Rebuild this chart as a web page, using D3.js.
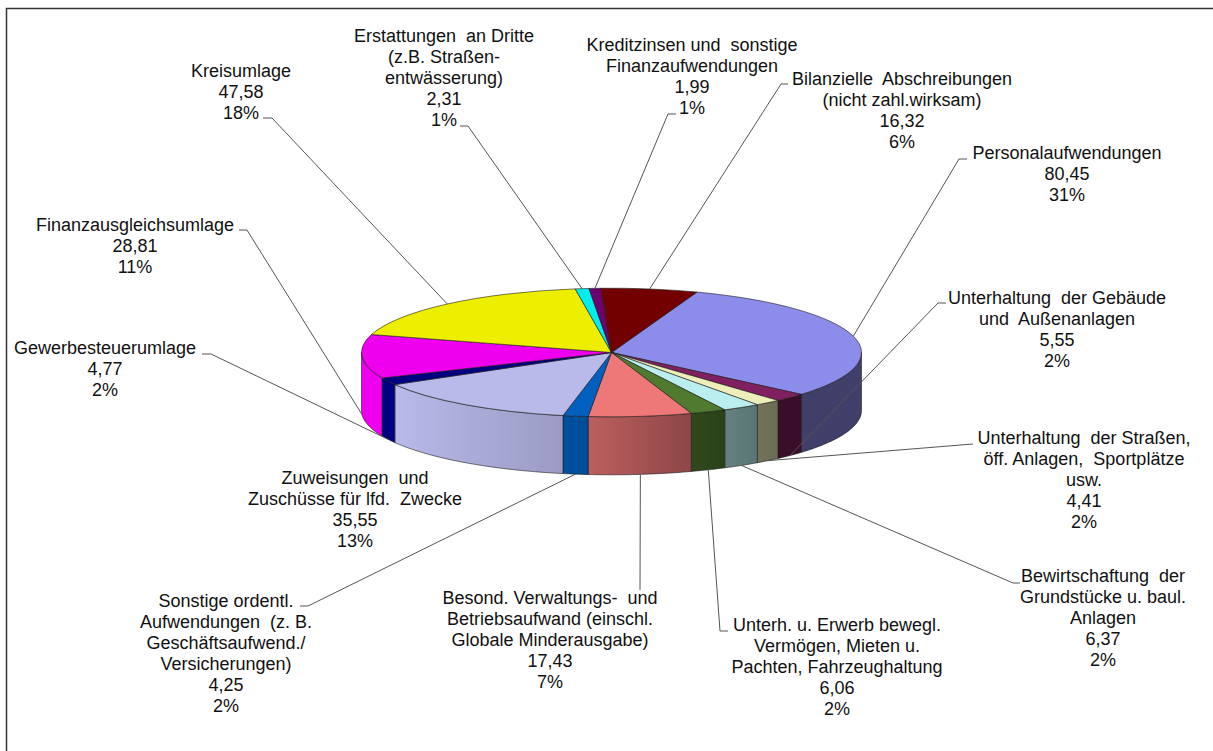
<!DOCTYPE html>
<html><head><meta charset="utf-8">
<script src="https://cdn.jsdelivr.net/npm/d3@7"></script>
<style>html,body{margin:0;padding:0;background:#fff}svg{display:block}text{font-family:"Liberation Sans",Arial,sans-serif;font-size:18px;fill:#111;white-space:pre}</style>
</head><body><svg id="c" width="1213" height="751"></svg>
<script>
const categories=["Personalaufwendungen","Unterhaltung der Gebäude und Außenanlagen","Unterhaltung der Straßen, öff. Anlagen, Sportplätze usw.","Bewirtschaftung der Grundstücke u. baul. Anlagen","Unterh. u. Erwerb bewegl. Vermögen, Mieten u. Pachten, Fahrzeughaltung","Besond. Verwaltungs- und Betriebsaufwand (einschl. Globale Minderausgabe)","Sonstige ordentl. Aufwendungen (z. B. Geschäftsaufwend./ Versicherungen)","Zuweisungen und Zuschüsse für lfd. Zwecke","Gewerbesteuerumlage","Finanzausgleichsumlage","Kreisumlage","Erstattungen an Dritte (z.B. Straßenentwässerung)","Kreditzinsen und sonstige Finanzaufwendungen","Bilanzielle Abschreibungen (nicht zahl.wirksam)"];
const values=[80.45,5.55,4.41,6.37,6.06,17.43,4.25,35.55,4.77,28.81,47.58,2.31,1.99,16.32];
const percents=["31%","2%","2%","2%","2%","7%","2%","13%","2%","11%","18%","1%","1%","6%"];
const labelLines=[
["Personalaufwendungen"],
["Unterhaltung  der Gebäude","und  Außenanlagen"],
["Unterhaltung  der Straßen,","öff. Anlagen,  Sportplätze","usw."],
["Bewirtschaftung  der","Grundstücke u. baul.","Anlagen"],
["Unterh. u. Erwerb bewegl.","Vermögen, Mieten u.","Pachten, Fahrzeughaltung"],
["Besond. Verwaltungs-  und","Betriebsaufwand (einschl.","Globale Minderausgabe)"],
["Sonstige ordentl.","Aufwendungen  (z. B.","Geschäftsaufwend./","Versicherungen)"],
["Zuweisungen  und","Zuschüsse für lfd.  Zwecke"],
["Gewerbesteuerumlage"],
["Finanzausgleichsumlage"],
["Kreisumlage"],
["Erstattungen  an Dritte","(z.B. Straßen-","entwässerung)"],
["Kreditzinsen und  sonstige","Finanzaufwendungen"],
["Bilanzielle  Abschreibungen","(nicht zahl.wirksam)"]];
const colors=["#8c8ceb","#802060","#eeeebb","#bbeeee","#4f7a2f","#ee7777","#0060c0","#b9b9ea","#000080","#ee00ee","#eeee00","#00eeee","#700070","#720000"];

// layout of labels: [centre x, first baseline y], and leader stub [outer x, inner x, y]
const labelPos=[[1067,159],[1057,304],[1084,444],[1103,582],[837,631],[550,604],[226,607],[355,484],[105,354],[135,231],[241,77],[444,42],[692,51],[902,85]];
const stubs=[[967,959,159],[946,938,303],[973,973,444],[1020,1013,583],[728,720,631],[640,640,590],[300,308,606],null,[202,211,354],[239,247,230],[263,272,118],[460,468,126],[676,668,114],[788,781,84]];

const cx=611.5,cy=352.5,rx=250,ry=64.3,depth=58,lineH=21;
const rad=d=>d*Math.PI/180;
const svg=d3.select("#c");
svg.append("path").attr("d","M6.5,751V8.5H1213").attr("fill","none").attr("stroke","#333").attr("stroke-width",1.5);

const arcs=d3.pie().value(d=>d).sort(null).startAngle(rad(20)).endAngle(rad(380))(values);
const px=a=>cx+rx*Math.sin(a), py=a=>cy-ry*Math.cos(a);
const shade=d3.scaleLinear().domain([395,562,690,780]).range([1,.84,.6,.45]).clamp(true);
const defs=svg.append("defs");
const mul=(c,f)=>{const r=d3.rgb(c);return d3.rgb(r.r*f,r.g*f,r.b*f).formatHex();};
colors.forEach((c,i)=>{
  const g=defs.append("linearGradient").attr("id","w"+i).attr("gradientUnits","userSpaceOnUse").attr("x1",395).attr("x2",780).attr("y1",0).attr("y2",0);
  shade.domain().forEach(x=>g.append("stop").attr("offset",(x-395)/385).attr("stop-color",mul(c,shade(x))));
});
const outline="#1a1a1a";
// side walls: visible front half only
const walls=svg.append("g");
arcs.forEach((d,i)=>{
  const a0=Math.max(d.startAngle,rad(90)), a1=Math.min(d.endAngle,rad(270));
  if(a1<=a0)return;
  const n=Math.max(2,Math.ceil((a1-a0)/rad(1)));
  const t=d3.range(n+1).map(k=>a0+(a1-a0)*k/n);
  const pts=t.map(a=>[px(a),py(a)]).concat(t.slice().reverse().map(a=>[px(a),py(a)+depth]));
  walls.append("path").attr("d",d3.line()(pts)+"Z").attr("fill",`url(#w${i})`).attr("stroke",outline).attr("stroke-width",.7).attr("stroke-opacity",.85);
});
// top faces
const topFace=svg.append("g").attr("transform",`translate(${cx},${cy}) scale(1,${ry/rx})`);
const arcGen=d3.arc().innerRadius(0).outerRadius(rx);
topFace.selectAll("path").data(arcs).join("path").attr("d",arcGen).attr("fill",(d,i)=>colors[i])
  .attr("stroke",outline).attr("stroke-width",.7).attr("stroke-opacity",.85).attr("vector-effect","non-scaling-stroke");
// leaders
const leaders=svg.append("g").attr("fill","none").attr("stroke","#555").attr("stroke-width",1);
arcs.forEach((d,i)=>{
  if(!stubs[i])return;
  const m=(d.startAngle+d.endAngle)/2;
  const c=Math.cos(m);
  const ex=px(m), ey=py(m)+(c<0?depth:0);
  const s=stubs[i];
  leaders.append("path").attr("d",d3.line()([[s[0],s[2]],[s[1],s[2]],[ex,ey]]));
});
// labels
const labels=svg.append("g").attr("text-anchor","middle");
arcs.forEach((d,i)=>{
  const lines=labelLines[i].concat([String(values[i].toFixed(2)).replace(".",","),percents[i]]);
  lines.forEach((t,k)=>labels.append("text").attr("x",labelPos[i][0]).attr("y",labelPos[i][1]+k*lineH).text(t));
});
</script></body></html>
